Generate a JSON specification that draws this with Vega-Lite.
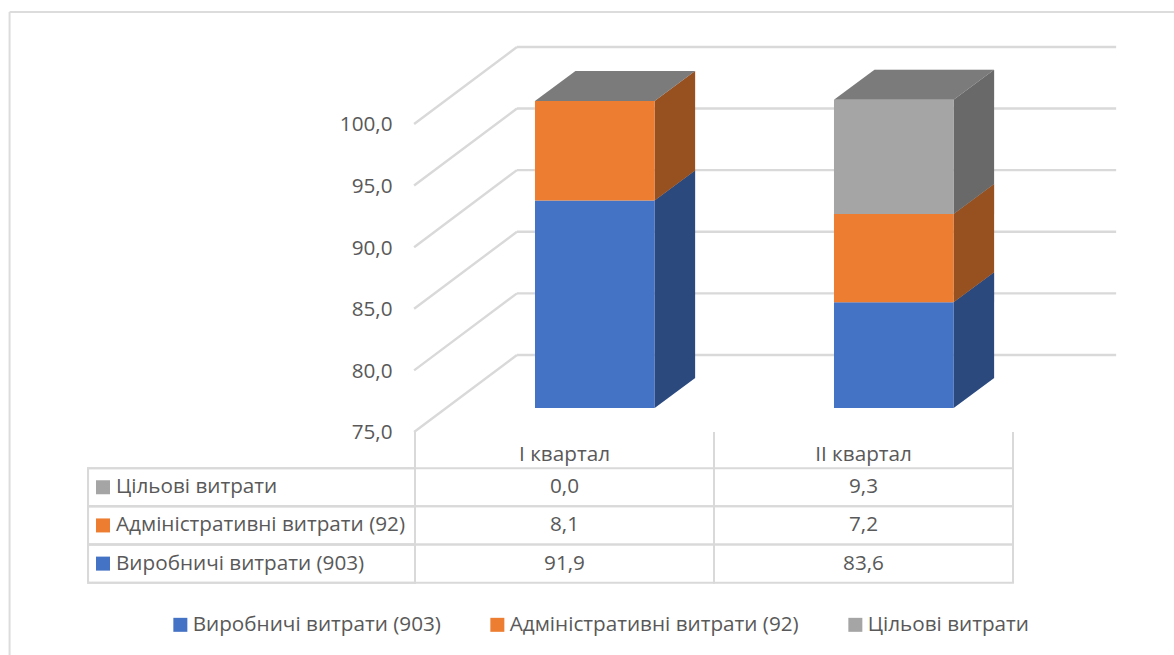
{
  "$schema": "https://vega.github.io/schema/vega-lite/v6.json",
  "width": 1174,
  "height": 655,
  "padding": 0,
  "autosize": {"type": "none"},
  "background": "white",
  "config": {"view": {"stroke": null}, "font": "Open Sans", "text": {"font": "Open Sans"}},
  "datasets": {
    "costs": [
      {"quarter": "I квартал", "series": "Виробничі витрати (903)", "rank": 1, "value": 91.9},
      {"quarter": "I квартал", "series": "Адміністративні витрати (92)", "rank": 2, "value": 8.1},
      {"quarter": "I квартал", "series": "Цільові витрати", "rank": 3, "value": 0.0},
      {"quarter": "II квартал", "series": "Виробничі витрати (903)", "rank": 1, "value": 83.6},
      {"quarter": "II квартал", "series": "Адміністративні витрати (92)", "rank": 2, "value": 7.2},
      {"quarter": "II квартал", "series": "Цільові витрати", "rank": 3, "value": 9.3}
    ],
    "ticks": [{"tick": 75}, {"tick": 80}, {"tick": 85}, {"tick": 90}, {"tick": 95}, {"tick": 100}]
  },
  "resolve": {"scale": {"y": "independent"}},
  "layer": [
    {
      "description": "3D plot: walls and stacked boxes, in column units across and value units up",
      "layer": [
        {
          "description": "chart frame, top and left edges only",
          "data": {"values": [{"edge": "frame"}]},
          "mark": {"type": "rule", "color": "#dcdcdc", "strokeWidth": 2},
          "encoding": {
            "x": {"datum": -1.356, "type": "quantitative", "scale": {"domain": [-1.388, 2.5385], "range": [0, 1174]}, "axis": null},
            "y": {"datum": 109.09, "type": "quantitative", "scale": {"domain": [56.9, 110.06], "range": [655, 0]}},
            "y2": {"datum": 56.9}
          }
        },
        {
          "data": {"values": [{"edge": "frame"}]},
          "mark": {"type": "rule", "color": "#dcdcdc", "strokeWidth": 2},
          "encoding": {
            "x": {"datum": -1.356, "type": "quantitative", "scale": {"domain": [-1.388, 2.5385], "range": [0, 1174]}},
            "x2": {"datum": 2.5385},
            "y": {"datum": 109.09, "type": "quantitative", "scale": {"domain": [56.9, 110.06], "range": [655, 0]}}
          }
        },
        {
          "description": "back wall gridlines",
          "data": {"name": "ticks"},
          "transform": [{"calculate": "datum.tick + 6.25", "as": "back"}],
          "mark": {"type": "rule", "color": "#d9d9d9", "strokeWidth": 2.4},
          "encoding": {
            "x": {"datum": 0.341, "type": "quantitative", "scale": {"domain": [-1.388, 2.5385], "range": [0, 1174]}},
            "x2": {"datum": 2.345},
            "y": {"field": "back", "type": "quantitative", "scale": {"domain": [56.9, 110.06], "range": [655, 0]}}
          }
        },
        {
          "description": "side wall lines running from the axis back to the gridlines; also carries the value axis",
          "data": {"name": "ticks"},
          "transform": [
            {"calculate": "[0, 1]", "as": "edge"},
            {"flatten": ["edge"]},
            {"calculate": "-0.003 + datum.edge * 0.344", "as": "px"},
            {"calculate": "datum.tick + datum.edge * 6.25", "as": "py"}
          ],
          "mark": {"type": "line", "color": "#d9d9d9", "strokeWidth": 2.4},
          "encoding": {
            "x": {"field": "px", "type": "quantitative", "scale": {"domain": [-1.388, 2.5385], "range": [0, 1174]}},
            "y": {
              "field": "py",
              "type": "quantitative",
              "scale": {"domain": [56.9, 110.06], "range": [655, 0]},
              "axis": {
                "title": null,
                "values": [75, 80, 85, 90, 95, 100],
                "orient": "left",
                "offset": -392,
                "domain": false,
                "ticks": false,
                "grid": false,
                "labelPadding": 0,
                "labelFontSize": 20.7,
                "labelColor": "#595959",
                "labelFont": "Open Sans",
                "labelOffset": 1,
                "labelExpr": "replace(format(datum.value, '.1f'), '.', ',')"
              }
            },
            "detail": {"field": "tick"}
          }
        },
        {
          "description": "right-hand faces of the boxes; the boxes sit deeper, so heights shrink slightly",
          "data": {"name": "costs"},
          "transform": [
            {"stack": "value", "groupby": ["quarter"], "sort": [{"field": "rank"}], "as": ["v0", "v1"]},
            {"calculate": "indexof(['I квартал', 'II квартал'], datum.quarter)", "as": "col"},
            {"calculate": "[0, 1]", "as": "edge"},
            {"flatten": ["edge"]},
            {"calculate": "datum.col + 0.8013 + datum.edge * 0.1355", "as": "px"},
            {"calculate": "75 + (datum.v1 - 75) * 0.9968 + 1.948 + datum.edge * 2.435", "as": "top"},
            {"calculate": "75 + (max(datum.v0, 75) - 75) * 0.9968 + 1.948 + datum.edge * 2.435", "as": "bottom"}
          ],
          "layer": [
            {
              "mark": {"type": "area", "orient": "vertical"},
              "encoding": {
                "x": {"field": "px", "type": "quantitative", "scale": {"domain": [-1.388, 2.5385], "range": [0, 1174]}},
                "y": {"field": "top", "type": "quantitative", "scale": {"domain": [56.9, 110.06], "range": [655, 0]}},
                "y2": {"field": "bottom"},
                "color": {
                  "field": "series",
                  "type": "nominal",
                  "scale": {
                    "domain": ["Виробничі витрати (903)", "Адміністративні витрати (92)", "Цільові витрати"],
                    "range": ["#4472c4", "#ed7d31", "#a5a5a5"]
                  },
                  "legend": {
                    "title": null,
                    "orient": "none",
                    "legendX": 170,
                    "legendY": 614,
                    "direction": "horizontal",
                    "columns": 3,
                    "gridAlign": "each",
                    "columnPadding": 46,
                    "symbolType": "square",
                    "symbolSize": 196,
                    "symbolStrokeWidth": 0,
                    "labelFontSize": 20.7,
                    "labelFont": "Open Sans",
                    "labelColor": "#595959",
                    "labelOffset": 2,
                    "labelLimit": 400
                  }
                },
                "detail": {"field": "quarter"}
              }
            },
            {
              "mark": {"type": "area", "orient": "vertical", "color": "black", "opacity": 0.36},
              "encoding": {
                "x": {"field": "px", "type": "quantitative", "scale": {"domain": [-1.388, 2.5385], "range": [0, 1174]}},
                "y": {"field": "top", "type": "quantitative", "scale": {"domain": [56.9, 110.06], "range": [655, 0]}},
                "y2": {"field": "bottom"},
                "detail": [{"field": "quarter"}, {"field": "series"}]
              }
            }
          ]
        },
        {
          "description": "top faces of the boxes, taken from the uppermost series",
          "data": {"name": "costs"},
          "transform": [
            {"stack": "value", "groupby": ["quarter"], "sort": [{"field": "rank"}], "as": ["v0", "v1"]},
            {"filter": "datum.rank === 3"},
            {"calculate": "indexof(['I квартал', 'II квартал'], datum.quarter)", "as": "col"},
            {"calculate": "[0, 1]", "as": "edge"},
            {"flatten": ["edge"]},
            {"calculate": "datum.col + 0.4013 + datum.edge * 0.1355", "as": "px"},
            {"calculate": "datum.col + 0.8013 + datum.edge * 0.1355", "as": "px2"},
            {"calculate": "75 + (datum.v1 - 75) * 0.9968 + 1.948 + datum.edge * 2.435", "as": "py"}
          ],
          "layer": [
            {
              "mark": {"type": "area", "orient": "horizontal"},
              "encoding": {
                "y": {"field": "py", "type": "quantitative", "scale": {"domain": [56.9, 110.06], "range": [655, 0]}},
                "x": {"field": "px", "type": "quantitative", "scale": {"domain": [-1.388, 2.5385], "range": [0, 1174]}},
                "x2": {"field": "px2"},
                "color": {
                  "field": "series",
                  "type": "nominal",
                  "scale": {
                    "domain": ["Виробничі витрати (903)", "Адміністративні витрати (92)", "Цільові витрати"],
                    "range": ["#4472c4", "#ed7d31", "#a5a5a5"]
                  }
                },
                "detail": {"field": "quarter"}
              }
            },
            {
              "mark": {"type": "area", "orient": "horizontal", "color": "black", "opacity": 0.25},
              "encoding": {
                "y": {"field": "py", "type": "quantitative", "scale": {"domain": [56.9, 110.06], "range": [655, 0]}},
                "x": {"field": "px", "type": "quantitative", "scale": {"domain": [-1.388, 2.5385], "range": [0, 1174]}},
                "x2": {"field": "px2"},
                "detail": {"field": "quarter"}
              }
            }
          ]
        },
        {
          "description": "front faces of the boxes",
          "data": {"name": "costs"},
          "transform": [
            {"stack": "value", "groupby": ["quarter"], "sort": [{"field": "rank"}], "as": ["v0", "v1"]},
            {"calculate": "indexof(['I квартал', 'II квартал'], datum.quarter)", "as": "col"},
            {"calculate": "datum.col + 0.4013", "as": "left"},
            {"calculate": "datum.col + 0.8013", "as": "right"},
            {"calculate": "75 + (datum.v1 - 75) * 0.9968 + 1.948", "as": "top"},
            {"calculate": "75 + (max(datum.v0, 75) - 75) * 0.9968 + 1.948", "as": "bottom"}
          ],
          "mark": {"type": "rect"},
          "encoding": {
            "x": {"field": "left", "type": "quantitative", "scale": {"domain": [-1.388, 2.5385], "range": [0, 1174]}},
            "x2": {"field": "right"},
            "y": {"field": "top", "type": "quantitative", "scale": {"domain": [56.9, 110.06], "range": [655, 0]}},
            "y2": {"field": "bottom"},
            "color": {
              "field": "series",
              "type": "nominal",
              "scale": {
                "domain": ["Виробничі витрати (903)", "Адміністративні витрати (92)", "Цільові витрати"],
                "range": ["#4472c4", "#ed7d31", "#a5a5a5"]
              }
            }
          }
        },
        {
          "description": "column dividers in the quarter header row",
          "data": {"values": [{"divider": 0}, {"divider": 1}, {"divider": 2}]},
          "mark": {"type": "rule", "color": "#d9d9d9", "strokeWidth": 2},
          "encoding": {
            "x": {"field": "divider", "type": "quantitative", "scale": {"domain": [-1.388, 2.5385], "range": [0, 1174]}},
            "y": {"datum": 75, "type": "quantitative", "scale": {"domain": [56.9, 110.06], "range": [655, 0]}},
            "y2": {"datum": 72.08}
          }
        }
      ]
    },
    {
      "description": "data table under the plot, one band per row",
      "data": {"name": "costs"},
      "transform": [
        {"calculate": "indexof(['I квартал', 'II квартал'], datum.quarter)", "as": "col"},
        {"calculate": "datum.col + 1", "as": "colEnd"},
        {"calculate": "datum.col + 0.5", "as": "colMid"},
        {"calculate": "replace(format(datum.value, '.1f'), '.', ',')", "as": "label"},
        {"calculate": "-1.0936", "as": "headStart"},
        {"calculate": "0", "as": "headEnd"},
        {"calculate": "-1.0435", "as": "keyPos"},
        {"calculate": "-1.0", "as": "namePos"}
      ],
      "encoding": {
        "y": {
          "field": "series",
          "type": "nominal",
          "axis": null,
          "scale": {
            "type": "band",
            "domain": ["quarters", "Цільові витрати", "Адміністративні витрати (92)", "Виробничі витрати (903)"],
            "range": [430, 582.7],
            "paddingInner": 0,
            "paddingOuter": 0
          }
        }
      },
      "layer": [
        {
          "mark": {"type": "rect", "fill": "transparent", "stroke": "#d9d9d9", "strokeWidth": 2},
          "encoding": {
            "x": {"field": "col", "type": "quantitative", "scale": {"domain": [-1.388, 2.5385], "range": [0, 1174]}},
            "x2": {"field": "colEnd"}
          }
        },
        {
          "mark": {"type": "rect", "fill": "transparent", "stroke": "#d9d9d9", "strokeWidth": 2},
          "encoding": {
            "x": {"field": "headStart", "type": "quantitative", "scale": {"domain": [-1.388, 2.5385], "range": [0, 1174]}},
            "x2": {"field": "headEnd"}
          }
        },
        {
          "mark": {"type": "text", "fontSize": 20.7, "color": "#595959", "align": "center", "baseline": "middle"},
          "encoding": {
            "x": {"field": "colMid", "type": "quantitative", "scale": {"domain": [-1.388, 2.5385], "range": [0, 1174]}},
            "text": {"field": "label"}
          }
        },
        {
          "transform": [{"filter": "datum.col === 0"}],
          "mark": {"type": "point", "shape": "square", "filled": true, "size": 196, "opacity": 1},
          "encoding": {
            "x": {"field": "keyPos", "type": "quantitative", "scale": {"domain": [-1.388, 2.5385], "range": [0, 1174]}},
            "color": {
              "field": "series",
              "type": "nominal",
              "scale": {
                "domain": ["Виробничі витрати (903)", "Адміністративні витрати (92)", "Цільові витрати"],
                "range": ["#4472c4", "#ed7d31", "#a5a5a5"]
              }
            }
          }
        },
        {
          "transform": [{"filter": "datum.col === 0"}],
          "mark": {"type": "text", "fontSize": 20.7, "color": "#595959", "align": "left", "baseline": "middle"},
          "encoding": {
            "x": {"field": "namePos", "type": "quantitative", "scale": {"domain": [-1.388, 2.5385], "range": [0, 1174]}},
            "text": {"field": "series"}
          }
        },
        {
          "transform": [{"filter": "datum.rank === 1"}],
          "mark": {"type": "text", "fontSize": 20.7, "color": "#595959", "align": "center", "baseline": "middle", "dy": 6},
          "encoding": {
            "x": {"field": "colMid", "type": "quantitative", "scale": {"domain": [-1.388, 2.5385], "range": [0, 1174]}},
            "y": {"datum": "quarters", "type": "nominal", "scale": {
              "type": "band",
              "domain": ["quarters", "Цільові витрати", "Адміністративні витрати (92)", "Виробничі витрати (903)"],
              "range": [430, 582.7],
              "paddingInner": 0,
              "paddingOuter": 0
            }},
            "text": {"field": "quarter"}
          }
        }
      ]
    }
  ]
}
